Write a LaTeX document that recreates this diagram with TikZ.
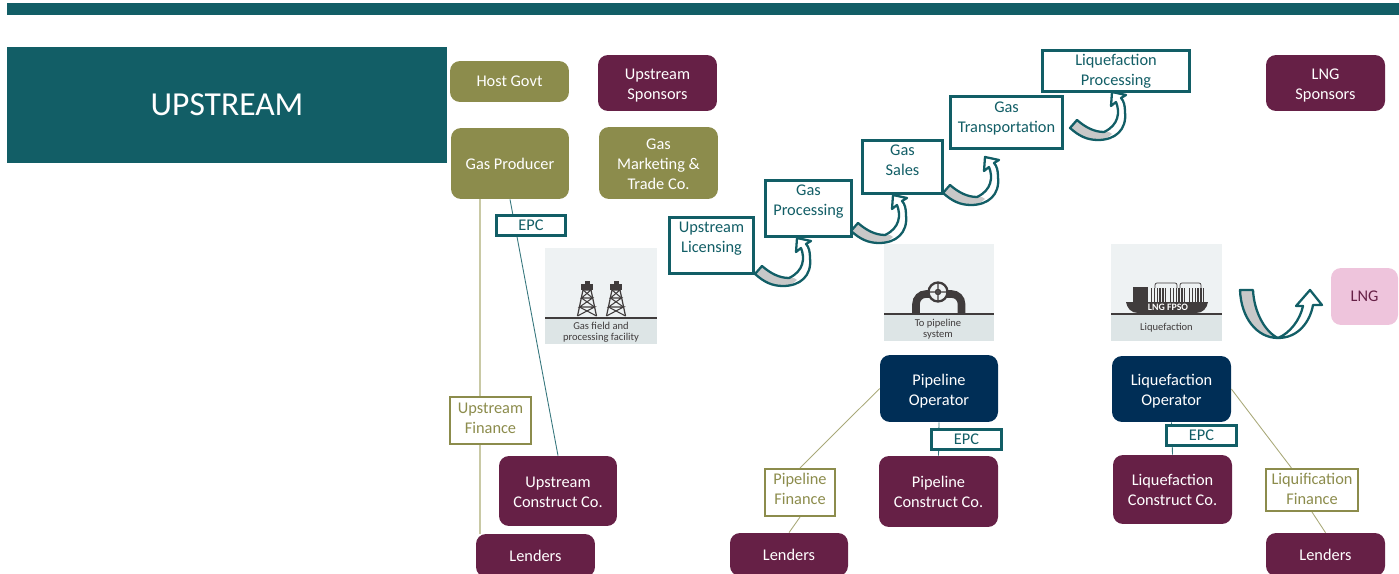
\documentclass[tikz,border=0pt]{standalone}
\usepackage{xcolor}
\usepackage{fontspec}
\setmainfont{Carlito}
\usetikzlibrary{positioning, calc}

\definecolor{tealdark}{HTML}{125E66}
\definecolor{olive}{HTML}{8C8C4C}
\definecolor{olivelight}{HTML}{C9C9A5}
\definecolor{maroon}{HTML}{662046}
\definecolor{navy}{HTML}{002E56}
\definecolor{pinklight}{HTML}{EEC4DC}
\definecolor{iconback}{HTML}{EEF2F3}
\definecolor{iconlow}{HTML}{DDE5E6}
\definecolor{icondark}{HTML}{403C3C}
\definecolor{bandgray}{HTML}{C8C8C8}

\newcommand{\dropline}{\rule{0pt}{9pt}}
\newcommand{\dropless}{\rule{0pt}{7.8pt}}

\begin{document}
\begin{tikzpicture}[x=0.02cm, y=-0.02cm]
    \tikzstyle{block} = [rectangle, rounded corners=0.2cm, inner sep=0pt, text=white, align=center, font=\fontsize{9.3}{11.4}\selectfont]
    \tikzstyle{step box} = [rectangle, draw=tealdark, line width=1.2pt, fill=white, inner sep=0pt, text=tealdark, align=center, font=\fontsize{9.3}{11.4}\selectfont]
    \tikzstyle{finance box} = [step box, draw=olive, text=olive]
    \tikzstyle{link} = [line width=0.5pt, draw=olive!75]
    \tikzstyle{epc link} = [line width=0.5pt, draw=tealdark!85]
    \tikzstyle{icon text} = [inner sep=0pt, text=icondark, align=center, font=\fontsize{6}{6}\selectfont]
    \tikzset{
        block arrow/.style={draw=tealdark, line width=1.3pt, line join=round},
        curve arrow/.pic={
            \fill[white] (-7,8) .. controls (2,16) and (10,20) .. (21,20)
                .. controls (38,20) and (50,10) .. (48,-8) .. controls (48,-14) and (47,-19) .. (44,-22)
                -- (49,-25) -- (35,-28) -- (34,-14) -- (39,-18)
                .. controls (43,-8) and (42,5) .. (27,12)
                .. controls (17,12) and (8,7) .. (0,0) -- cycle;
            \fill[bandgray] (-7,8) .. controls (2,16) and (10,20) .. (21,20)
                .. controls (26,20) and (31,18) .. (35,14)
                .. controls (32,11) and (29,12) .. (27,12)
                .. controls (17,12) and (8,7) .. (0,0) -- cycle;
            \draw[block arrow] (-7,8) .. controls (2,16) and (10,20) .. (21,20)
                .. controls (38,20) and (50,10) .. (48,-8) .. controls (48,-14) and (47,-19) .. (44,-22)
                -- (49,-25) -- (35,-28) -- (34,-14) -- (39,-18)
                .. controls (43,-8) and (42,5) .. (27,12)
                .. controls (17,12) and (8,7) .. (0,0) -- cycle;
        },
        rig/.pic={
            \fill[icondark] (-2.5,0) rectangle (2.5,3);
            \fill[icondark] (-6,3) rectangle (6,9);
            \draw[icondark, line width=0.7pt] (-9.5,35) -- (-4,9) (9.5,35) -- (4,9);
            \draw[icondark, line width=0.6pt] (-4,9) -- (4,9) -- (-5.5,17) -- (5.5,17) -- (-7.5,26) -- (7.5,26) -- (-9.5,35);
            \draw[icondark, line width=0.6pt] (-4,9) -- (5.5,17) (-5.5,17) -- (7.5,26) (-7.5,26) -- (9.5,35);
        }
    }
    \clip (0,0) rectangle (1399,574);

    % Header
    \fill[tealdark] (7,3) rectangle (1399,15);
    \node[rectangle, fill=tealdark, text=white, minimum width=8.8cm, minimum height=2.32cm, font=\fontsize{19.1}{21}\selectfont] (title) at (227,105) {UPSTREAM};

    % Parties
    \node[block, fill=olive, minimum width=2.38cm, minimum height=0.82cm] (govt) at (509.5,81.5) {Host Govt};
    \node[block, fill=maroon, minimum width=2.38cm, minimum height=1.12cm] (upspons) at (657.5,83) {\dropline Upstream\\Sponsors};
    \node[block, fill=olive, minimum width=2.36cm, minimum height=1.42cm] (producer) at (510,163.5) {Gas Producer};
    \node[block, fill=olive, minimum width=2.38cm, minimum height=1.44cm] (marketing) at (658.5,163) {\dropless Gas\\Marketing \&\\Trade Co.};
    \node[block, fill=maroon, minimum width=2.38cm, minimum height=1.12cm] (lngspons) at (1325.5,83) {\dropline LNG\\Sponsors};
    \node[block, fill=pinklight, text=maroon, minimum width=1.34cm, minimum height=1.14cm] (lng) at (1364.5,296.5) {LNG};

    % Operators and construction
    \node[block, fill=navy, minimum width=2.36cm, minimum height=1.34cm] (pipeop) at (939,388.5) {\dropline Pipeline\\Operator};
    \node[block, fill=navy, minimum width=2.38cm, minimum height=1.32cm] (liqop) at (1171.5,389) {\dropline Liquefaction\\Operator};
    \node[block, fill=maroon, minimum width=2.36cm, minimum height=1.40cm] (upcon) at (558,491) {\dropless Upstream\\Construct Co.};
    \node[block, fill=maroon, minimum width=2.38cm, minimum height=1.42cm] (pipecon) at (938.5,491.5) {Pipeline\\Construct Co.};
    \node[block, fill=maroon, minimum width=2.38cm, minimum height=1.38cm] (liqcon) at (1172.5,489.5) {Liquefaction\\Construct Co.};

    % Lenders
    \node[block, fill=maroon, minimum width=2.38cm, minimum height=0.86cm] (lendup) at (535.5,555.5) {Lenders};
    \node[block, fill=maroon, minimum width=2.36cm, minimum height=0.86cm] (lendpipe) at (789,554.5) {Lenders};
    \node[block, fill=maroon, minimum width=2.38cm, minimum height=0.86cm] (lendliq) at (1325.5,554.5) {Lenders};

    % Finance nodes
    \node[finance box, minimum width=1.62cm, minimum height=0.94cm] (upfin) at (490.5,420.5) {Upstream\\Finance\\[-8.4pt]\mbox{}};
    \node[finance box, minimum width=1.40cm, minimum height=0.94cm] (pipefin) at (800,492.5) {Pipeline\\Finance\\[-7.4pt]\mbox{}};
    \node[finance box, minimum width=1.84cm, minimum height=0.84cm] (liqfin) at (1312,490) {Liquification\\Finance\\[-10.4pt]\mbox{}};

    % Lines
    \draw[line width=1pt, draw=olivelight] ([xshift=0.58cm]producer.south west) -- ([xshift=0.58cm]producer.south west |- upfin.north);
    \draw[line width=1pt, draw=olivelight] ([xshift=0.58cm]producer.south west |- upfin.south) -- ([xshift=0.58cm]producer.south west |- lendup.north);
    \draw[epc link] (producer.south) -- (upcon.north);
    \draw[epc link] (pipeop.south) -- (pipecon.north);
    \draw[epc link] (liqop.south) -- (liqcon.north);
    \draw[link] (pipeop.west) -- (pipefin.north);
    \draw[link] (pipefin.south) -- (lendpipe.north);
    \draw[link] (liqop.east) -- (liqfin.133);
    \draw[link] (liqfin.south) -- (lendliq.north);

    % EPC nodes
    \node[step box, minimum width=1.38cm, minimum height=0.40cm] (epcup) at (531,225.5) {EPC};
    \node[step box, minimum width=1.40cm, minimum height=0.40cm] (epcpipe) at (966.5,439.5) {EPC};
    \node[step box, minimum width=1.40cm, minimum height=0.40cm] (epcliq) at (1201.5,435.5) {EPC};

    % Value chain
    \node[step box, minimum width=1.68cm, minimum height=1.12cm] (licensing) at (711.5,245.5) {Upstream\\Licensing\\[-1.7pt]\mbox{}};
    \node[step box, minimum width=1.72cm, minimum height=1.12cm] (processing) at (808.5,208.5) {Gas\\Processing\\[-1.7pt]\mbox{}};
    \node[step box, minimum width=1.60cm, minimum height=1.06cm] (sales) at (902.5,167) {Gas\\Sales\\[-3.4pt]\mbox{}};
    \node[step box, minimum width=2.24cm, minimum height=1.04cm] (transport) at (1006.5,122.5) {Gas\\Transportation\\[-5pt]\mbox{}};
    \node[step box, minimum width=2.94cm, minimum height=0.82cm] (liqproc) at (1116,71) {Liquefaction\\Processing};
    \pic at (762,266) {curve arrow};
    \pic at (858,223) {curve arrow};
    \pic at (950,185) {curve arrow};
    \pic at (1077,120) {curve arrow};

    % Arrow to LNG
    \draw[block arrow, fill=white] (1278,338) .. controls (1298,338) and (1310,322) .. (1313,305) -- (1322,305) -- (1310,290) -- (1296,306) -- (1303,306) .. controls (1300,320) and (1290,333) .. (1278,338) -- cycle;
    \draw[block arrow, fill=bandgray] (1240,290) -- (1253,290) .. controls (1254,312) and (1265,332) .. (1278,338) .. controls (1257,338) and (1241,318) .. (1240,290) -- cycle;

    % Gas field icon
    \fill[iconback] (545,248) rectangle (657,318);
    \fill[iconlow] (545,318) rectangle (657,344);
    \pic at (587,281) {rig};
    \pic at (616,281) {rig};
    \draw[icondark, line width=0.8pt] (545,318) -- (657,318);
    \node[icon text] (fieldtext) at (601,332) {Gas field and\\processing facility};

    % Pipeline icon
    \fill[iconback] (884,244) rectangle (994,314);
    \fill[iconlow] (884,314) rectangle (994,341);
    \draw[icondark, line width=4.3pt, rounded corners=0.2cm] (916,313) -- (916,294) -- (930,294);
    \draw[icondark, line width=4.3pt, rounded corners=0.2cm] (961.5,313) -- (961.5,294) -- (946,294);
    \draw[icondark, line width=1.3pt, fill=iconback] (938,292) circle (9.5);
    \draw[icondark, line width=0.8pt] (938,292) circle (2.5) (938,282.5) -- (938,301.5) (928.5,292) -- (947.5,292);
    \draw[icondark, line width=0.8pt] (884,314) -- (994,314);
    \node[icon text] (pipetext) at (938,329) {To pipeline\\system};

    % Liquefaction icon
    \fill[iconback] (1111,244) rectangle (1222,314);
    \fill[iconlow] (1111,314) rectangle (1222,341);
    \fill[icondark] (1133,287) rectangle (1148,302);
    \foreach \tankx in {1151, 1170, 1189} {
        \foreach \i in {0,...,5} {
            \fill[icondark] (\tankx+\i*2.8,288) rectangle (\tankx+\i*2.8+1.4,302);
        }
    }
    \draw[icondark, line width=0.4pt, rounded corners=0.04cm] (1155,288) -- (1155,283) -- (1177,283) -- (1177,288) (1180,288) -- (1180,283) -- (1201,283) -- (1201,288);
    \fill[icondark] (1126,302) -- (1208,302) .. controls (1207,308) and (1203,313) .. (1196,313) -- (1138,313) .. controls (1131,313) and (1127,308) .. (1126,302) -- cycle;
    \node[inner sep=0pt, text=white, font=\fontsize{5.6}{6}\selectfont\bfseries] (shiptext) at (1168,307) {LNG FPSO};
    \draw[icondark, line width=0.8pt] (1111,314) -- (1222,314);
    \node[icon text] (liqtext) at (1166.5,328) {Liquefaction};
\end{tikzpicture}
\end{document}
